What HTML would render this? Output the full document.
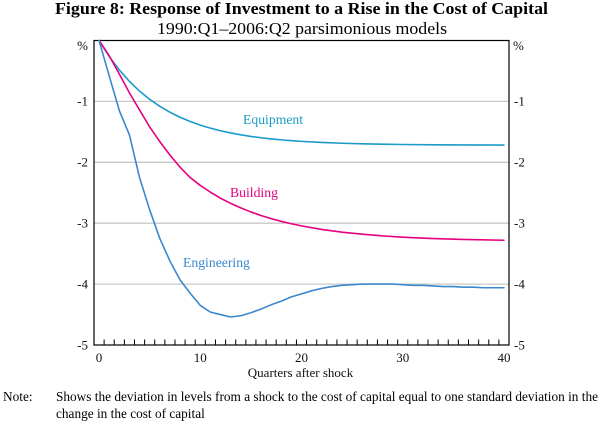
<!DOCTYPE html>
<html>
<head>
<meta charset="utf-8">
<style>
  html,body{margin:0;padding:0;background:#fff;}
  svg{display:block;}
  text{font-family:"Liberation Serif","Times New Roman",serif;}
</style>
</head>
<body>
<svg width="600" height="424" viewBox="0 0 600 424" xmlns="http://www.w3.org/2000/svg">
  <rect x="0" y="0" width="600" height="424" fill="#fff"/>
  <!-- Titles -->
  <text x="55" y="14" font-size="17" font-weight="bold" fill="#000" textLength="493" lengthAdjust="spacingAndGlyphs">Figure 8: Response of Investment to a Rise in the Cost of Capital</text>
  <text x="157" y="34" font-size="17" fill="#000" textLength="290" lengthAdjust="spacingAndGlyphs">1990:Q1–2006:Q2 parsimonious models</text>

  <!-- gridlines -->
  <g stroke="#c8c8c8" stroke-width="1.3">
    <line x1="94" y1="101.4" x2="509" y2="101.4"/>
    <line x1="94" y1="162.3" x2="509" y2="162.3"/>
    <line x1="94" y1="223.2" x2="509" y2="223.2"/>
    <line x1="94" y1="284.1" x2="509" y2="284.1"/>
  </g>

  <!-- ticks -->
  <g stroke="#000" stroke-width="1">
    <path d="M104.12,345V339.5 M114.24,345V339.5 M124.37,345V339.5 M134.49,345V339.5 M144.61,345V339.5 M154.73,345V339.5 M164.85,345V339.5 M174.98,345V339.5 M185.10,345V339.5 M195.22,345V339.5 M205.34,345V339.5 M215.46,345V339.5 M225.59,345V339.5 M235.71,345V339.5 M245.83,345V339.5 M255.95,345V339.5 M266.07,345V339.5 M276.20,345V339.5 M286.32,345V339.5 M296.44,345V339.5 M306.56,345V339.5 M316.68,345V339.5 M326.81,345V339.5 M336.93,345V339.5 M347.05,345V339.5 M357.17,345V339.5 M367.29,345V339.5 M377.42,345V339.5 M387.54,345V339.5 M397.66,345V339.5 M407.78,345V339.5 M417.90,345V339.5 M428.03,345V339.5 M438.15,345V339.5 M448.27,345V339.5 M458.39,345V339.5 M468.51,345V339.5 M478.64,345V339.5 M488.76,345V339.5 M498.88,345V339.5"/>
  </g>

  <!-- axis box -->
  <rect x="94" y="40.5" width="415" height="304.5" fill="none" stroke="#000" stroke-width="1.2"/>

  <!-- series -->
  <g transform="matrix(10.122 0 0 -60.9 99.06 40.5)" fill="none" stroke-linejoin="round" stroke-linecap="round">
    <!-- Equipment -->
    <path vector-effect="non-scaling-stroke" stroke="#1b9bc9" stroke-width="1.6"
      d="M0,0 L1,-0.2614 L2,-0.4831 L3,-0.6711 L4,-0.8306 L5,-0.9658 L6,-1.0803 L7,-1.1777 L8,-1.2601 L9,-1.3299 L10,-1.3892 L11,-1.4395 L12,-1.4821 L13,-1.5182 L14,-1.549 L15,-1.575 L16,-1.597 L17,-1.6158 L18,-1.6316 L19,-1.645 L20,-1.6564 L22,-1.6742 L24,-1.6871 L26,-1.6963 L28,-1.703 L30,-1.7078 L33,-1.7126 L36,-1.7155 L40,-1.7176"/>
    <!-- Building -->
    <path vector-effect="non-scaling-stroke" stroke="#e5007e" stroke-width="1.6"
      d="M0,0 L1,-0.25 L2,-0.55 L3,-0.86 L4,-1.14 L5,-1.42 L6,-1.66 L7,-1.88 L8,-2.08 L9,-2.25 L10,-2.38 L11,-2.49 L12,-2.59 L13,-2.674 L14,-2.749 L15,-2.815 L16,-2.873 L17,-2.925 L18,-2.969 L19,-3.009 L20,-3.044 L22,-3.102 L24,-3.147 L26,-3.181 L28,-3.208 L30,-3.229 L33,-3.252 L36,-3.267 L40,-3.28"/>
    <!-- Engineering -->
    <path vector-effect="non-scaling-stroke" stroke="#3b87cf" stroke-width="1.6"
      d="M0,0 L1,-0.58 L2,-1.15 L3,-1.55 L4,-2.25 L5,-2.78 L6,-3.25 L7,-3.62 L8,-3.93 L9,-4.15 L10,-4.35 L11,-4.46 L12,-4.5 L13,-4.54 L14,-4.52 L15,-4.47 L16,-4.41 L17,-4.34 L18,-4.28 L19,-4.21 L20,-4.16 L21,-4.11 L22,-4.07 L23,-4.04 L24,-4.02 L25,-4.01 L26,-4.0 L27,-4.0 L28,-4.0 L29,-4.0 L30,-4.01 L31,-4.02 L32,-4.02 L33,-4.03 L34,-4.04 L35,-4.04 L36,-4.05 L37,-4.05 L38,-4.06 L39,-4.06 L40,-4.06"/>
  </g>

  <!-- series labels -->
  <text x="243" y="124" font-size="13.7" fill="#1b9bc9">Equipment</text>
  <text x="230" y="197" font-size="13.7" fill="#e5007e">Building</text>
  <text x="183" y="267" font-size="13.7" fill="#3b87cf">Engineering</text>

  <!-- y labels left -->
  <g font-size="13" fill="#111" text-anchor="end">
    <text x="88" y="50">%</text>
    <text x="88" y="105.5">-1</text>
    <text x="88" y="166.5">-2</text>
    <text x="88" y="227.5">-3</text>
    <text x="88" y="288.5">-4</text>
    <text x="88" y="349.5">-5</text>
  </g>
  <!-- y labels right -->
  <g font-size="13" fill="#111" text-anchor="start">
    <text x="513" y="50">%</text>
    <text x="514" y="105.5">-1</text>
    <text x="514" y="166.5">-2</text>
    <text x="514" y="227.5">-3</text>
    <text x="514" y="288.5">-4</text>
    <text x="514" y="349.5">-5</text>
  </g>
  <!-- x labels -->
  <g font-size="13" fill="#111" text-anchor="middle">
    <text x="99.06" y="362">0</text>
    <text x="200.28" y="362">10</text>
    <text x="301.5" y="362">20</text>
    <text x="402.72" y="362">30</text>
    <text x="503.94" y="362">40</text>
    <text x="300.5" y="377">Quarters after shock</text>
  </g>

  <!-- note -->
  <g font-size="13.3" fill="#000">
    <text x="3" y="401">Note:</text>
    <text x="56" y="401" textLength="542" lengthAdjust="spacing">Shows the deviation in levels from a shock to the cost of capital equal to one standard deviation in the</text>
    <text x="56" y="418">change in the cost of capital</text>
  </g>
</svg>
</body>
</html>
